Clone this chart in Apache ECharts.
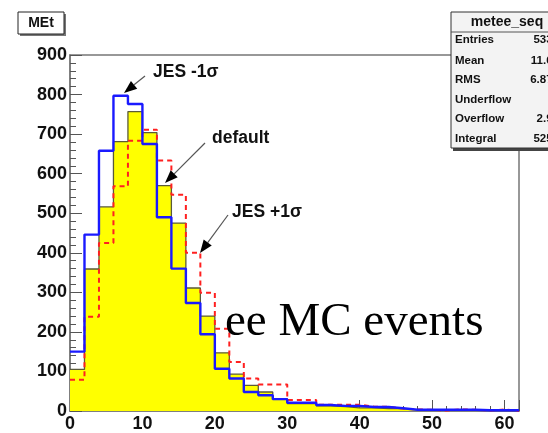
<!DOCTYPE html>
<html>
<head>
<meta charset="utf-8">
<script src="https://cdn.jsdelivr.net/npm/echarts@6/dist/echarts.min.js"></script>
<style>
html,body{margin:0;padding:0;background:#fff;}
#chart{width:548px;height:433px;}
</style>
</head>
<body>
<div id="chart"></div>
<script>
// ---- data ----
const binEdges = [0,2,4,6,8,10,12,14,16,18,20,22,24,26,28,30,32,34,36,38,40,42,44,46,48,50,52,54,56,58,60,62];
const defaultVals = [105,359,516,681,757,704,570,475,311,240,147,93,65,48,31,19,19,13,11,8,8,6,6,3,3,2,2,2,1,1,0];
const jesMinusVals = [150,446,658,797,776,675,490,360,273,194,107,82,48,40,30,21,21,15,13,13,10,10,7,3,3,3,3,3,2,2,2];
const jesPlusVals = [79,238,425,568,683,711,633,547,400,299,208,124,82,67,67,28,28,16,16,16,11,11,6,4,3,1,4,3,1,4,0];
const xTicks = [0,10,20,30,40,50,60];
const yTicks = [0,100,200,300,400,500,600,700,800,900];
const statsTitle = 'metee_seq';
const statsLabels = ['Entries','Mean','RMS','Underflow','Overflow','Integral'];
const statsValues = ['5331','11.61','6.874','0','2.92','5257'];
const histTitle = 'MEt';

function stepData(vals){
  const d = vals.map((v,i)=>[binEdges[i], v]);
  d.push([binEdges[vals.length], vals[vals.length-1]]);
  return d;
}

const chart = echarts.init(document.getElementById('chart'), null, {renderer:'canvas'});
const labelFont = {fontFamily:'Liberation Sans, Arial, sans-serif', fontWeight:'bold', fontSize:18, color:'#111'};

function arrow(x1,y1,x2,y2){
  const dx=x2-x1, dy=y2-y1, L=Math.sqrt(dx*dx+dy*dy);
  const ux=dx/L, uy=dy/L, hl=13, hw=5;
  const bx=x2-ux*hl, by=y2-uy*hl;
  return [
    {type:'polyline', shape:{points:[[x1,y1],[bx,by]]}, style:{stroke:'#555', lineWidth:1.2, fill:null}, z:50},
    {type:'polygon', shape:{points:[[x2,y2],[bx-uy*hw,by+ux*hw],[bx+uy*hw,by-ux*hw]]}, style:{fill:'#000'}, z:50}
  ];
}

const annFont = 'bold 17.5px Liberation Sans, Arial, sans-serif';
const graphics = [];
// title box
graphics.push({type:'rect', shape:{x:20,y:14,width:46,height:22}, style:{fill:'#777'}, z:60});
graphics.push({type:'rect', shape:{x:18,y:12,width:46,height:22}, style:{fill:'#fff', stroke:'#222', lineWidth:1}, z:61});
graphics.push({type:'text', x:41, y:23, style:{text:histTitle, font:'bold 14px Liberation Sans, Arial, sans-serif', fill:'#111', align:'center', verticalAlign:'middle'}, z:62});
// stats box
graphics.push({type:'rect', shape:{x:453,y:14,width:120,height:137}, style:{fill:'#444'}, z:60});
graphics.push({type:'rect', shape:{x:451,y:12,width:120,height:136}, style:{fill:'#f3f3f3', stroke:'#333', lineWidth:1}, z:61});
graphics.push({type:'line', shape:{x1:451,y1:32,x2:560,y2:32}, style:{stroke:'#555', lineWidth:1}, z:62});
graphics.push({type:'text', x:507, y:22, style:{text:statsTitle, font:'bold 14px Liberation Sans, Arial, sans-serif', fill:'#111', align:'center', verticalAlign:'middle'}, z:62});
const rowY = [40,60.5,80,99.5,119,138.5];
statsLabels.forEach((t,i)=>{
  graphics.push({type:'text', x:455, y:rowY[i], style:{text:t, font:'bold 11.5px Liberation Sans, Arial, sans-serif', fill:'#111', align:'left', verticalAlign:'middle'}, z:62});
  graphics.push({type:'text', x:559, y:rowY[i], style:{text:statsValues[i], font:'bold 11.5px Liberation Sans, Arial, sans-serif', fill:'#111', align:'right', verticalAlign:'middle'}, z:62});
});
// annotations
graphics.push({type:'text', x:153, y:72, style:{text:'JES -1σ', font:annFont, fill:'#111', verticalAlign:'middle'}, z:50});
graphics.push(...arrow(145,76,124,93));
graphics.push({type:'text', x:212, y:138, style:{text:'default', font:annFont, fill:'#111', verticalAlign:'middle'}, z:50});
graphics.push(...arrow(205,143,165,183));
graphics.push({type:'text', x:232, y:212, style:{text:'JES +1σ', font:annFont, fill:'#111', verticalAlign:'middle'}, z:50});
graphics.push(...arrow(228,215,200,253));
graphics.push({type:'text', x:225, y:323, style:{text:'ee MC events', font:'47px Liberation Serif, Times New Roman, serif', fill:'#000', verticalAlign:'middle'}, z:50});

const option = {
  animation:false,
  backgroundColor:'#fff',
  grid:{left:70, top:55, right:29, bottom:21, show:true, borderColor:'#777', borderWidth:1.5, backgroundColor:'transparent'},
  xAxis:{
    type:'value', min:binEdges[0], max:binEdges[binEdges.length-1], interval:10,
    axisLine:{show:true, onZero:false, lineStyle:{color:'#777', width:1.5}},
    axisTick:{show:true, inside:true, length:11, lineStyle:{color:'#555', width:1}},
    minorTick:{show:true, splitNumber:5, length:5, lineStyle:{color:'#555', width:1}},
    splitLine:{show:false},
    axisLabel:Object.assign({margin:4, showMaxLabel:false, formatter:v=>xTicks.includes(v)?String(v):''}, labelFont)
  },
  yAxis:{
    type:'value', min:0, max:yTicks[yTicks.length-1], interval:100,
    axisLine:{show:true, onZero:false, lineStyle:{color:'#777', width:1.5}},
    axisTick:{show:true, inside:true, length:12, lineStyle:{color:'#555', width:1}},
    minorTick:{show:true, splitNumber:5, length:6, lineStyle:{color:'#555', width:1}},
    splitLine:{show:false},
    axisLabel:Object.assign({margin:3, formatter:v=>yTicks.includes(v)?String(v):''}, labelFont)
  },
  series:[
    {name:'default', type:'line', step:'end', symbol:'none', data:stepData(defaultVals),
     lineStyle:{color:'#5a5a3a', width:1.3}, areaStyle:{color:'#ffff00', opacity:1}, z:2},
    {name:'JES +1σ', type:'line', step:'end', symbol:'none', data:stepData(jesPlusVals),
     lineStyle:{color:'#ff2020', width:2, type:[5,4]}, z:3},
    {name:'JES -1σ', type:'line', step:'end', symbol:'none', data:stepData(jesMinusVals),
     lineStyle:{color:'#1a1aff', width:2.4}, z:4}
  ],
  graphic:graphics
};
chart.setOption(option);
</script>
</body>
</html>
